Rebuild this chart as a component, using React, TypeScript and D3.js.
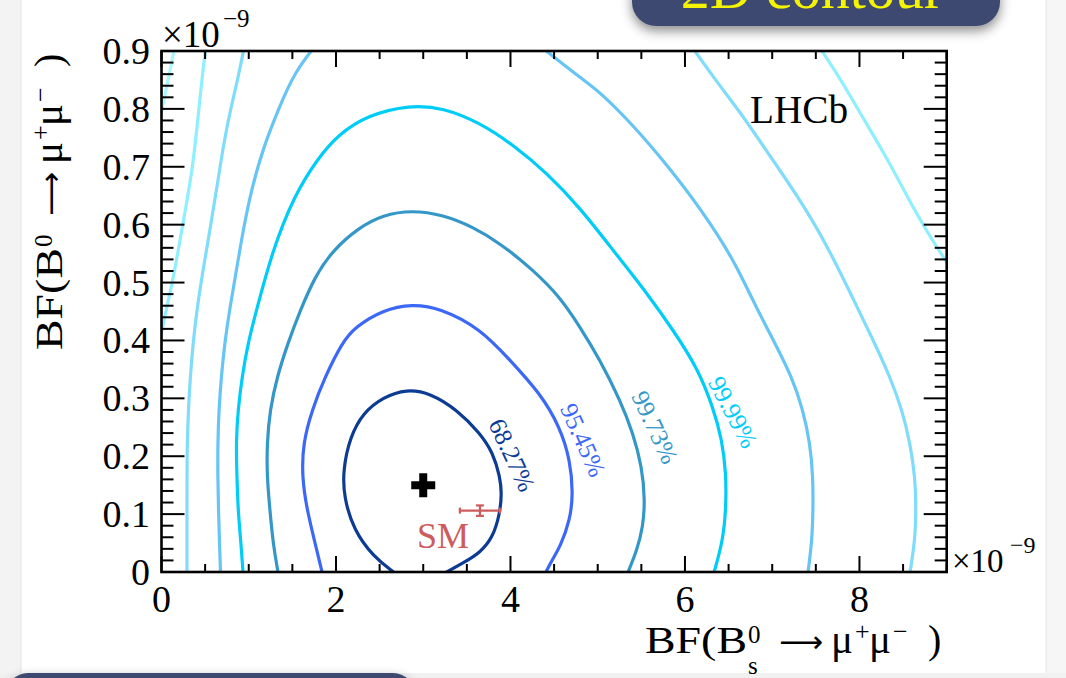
import React from "react";
import * as d3 from "d3";

// Canvas
const W = 1066;
const H = 678;

// Axis ranges (units of 1e-9)
const xDomain = [0, 9];
const yDomain = [0, 0.9];
const xTickValues = [0, 2, 4, 6, 8];
const xTickLabels = ["0", "2", "4", "6", "8"];
const yTickValues = [0, 0.1, 0.2, 0.3, 0.4, 0.5, 0.6, 0.7, 0.8, 0.9];
const yTickLabels = ["0", "0.1", "0.2", "0.3", "0.4", "0.5", "0.6", "0.7", "0.8", "0.9"];

// Contour lines: [BF(Bs), BF(B0)] points, from innermost to outermost
const c6827 = [
  [2.66, 0], [2.43, 0.026], [2.2, 0.073], [2.09, 0.13], [2.08, 0.176], [2.16, 0.233],
  [2.31, 0.275], [2.54, 0.302], [2.81, 0.316], [3.08, 0.309], [3.39, 0.28], [3.65, 0.24],
  [3.8, 0.206], [3.88, 0.164], [3.9, 0.136], [3.88, 0.102], [3.8, 0.06], [3.65, 0.033],
  [3.46, 0.016], [3.27, 0],
];
const c9545 = [
  [1.84, 0], [1.76, 0.05], [1.668, 0.107], [1.61, 0.164], [1.622, 0.223], [1.725, 0.28],
  [1.874, 0.337], [2.069, 0.396], [2.218, 0.423], [2.539, 0.453], [2.871, 0.463],
  [3.192, 0.456], [3.651, 0.421], [3.995, 0.366], [4.339, 0.309], [4.569, 0.25],
  [4.684, 0.193], [4.718, 0.136], [4.684, 0.09], [4.569, 0.043], [4.477, 0.021], [4.407, 0],
];
const c9973 = [
  [1.335, 0], [1.278, 0.05], [1.243, 0.107], [1.209, 0.164], [1.209, 0.223], [1.243, 0.28],
  [1.324, 0.337], [1.45, 0.396], [1.588, 0.451], [1.76, 0.511], [1.966, 0.556], [2.252, 0.594],
  [2.539, 0.617], [2.871, 0.625], [3.227, 0.617], [3.571, 0.596], [3.88, 0.568], [4.258, 0.522],
  [4.568, 0.475], [4.798, 0.423], [5.027, 0.366], [5.256, 0.297], [5.405, 0.24], [5.508, 0.181],
  [5.542, 0.124], [5.519, 0.078], [5.451, 0.038], [5.348, 0],
];
const c9999 = [
  [0.934, 0], [0.911, 0.05], [0.877, 0.107], [0.865, 0.164], [0.854, 0.223], [0.877, 0.28],
  [0.923, 0.337], [0.992, 0.396], [1.083, 0.449], [1.267, 0.553], [1.519, 0.65], [1.794, 0.715],
  [2.023, 0.755], [2.356, 0.789], [2.849, 0.807], [3.227, 0.802], [3.651, 0.776], [4.029, 0.738],
  [4.419, 0.689], [4.798, 0.629], [5.175, 0.556], [5.588, 0.477], [5.863, 0.418], [6.138, 0.354],
  [6.322, 0.285], [6.425, 0.228], [6.471, 0.171], [6.471, 0.112], [6.437, 0.055], [6.334, 0],
];
const c5Left = [
  [0.676, 0], [0.665, 0.05], [0.653, 0.107], [0.645, 0.164], [0.645, 0.223], [0.658, 0.28],
  [0.685, 0.337], [0.725, 0.396], [0.78, 0.453], [0.855, 0.518], [0.94, 0.594], [1.035, 0.663],
  [1.16, 0.73], [1.342, 0.8], [1.525, 0.864], [1.8, 0.916],
];
const c5Right = [
  [4.293, 0.914], [4.832, 0.85], [5.027, 0.829], [5.405, 0.772], [5.795, 0.703], [6.173, 0.629],
  [6.551, 0.542], [6.78, 0.468], [7.011, 0.401], [7.226, 0.337], [7.353, 0.28], [7.433, 0.223],
  [7.468, 0.164], [7.468, 0.107], [7.457, 0.055], [7.411, 0],
];
const c6Left = [
  [0.292, 0], [0.292, 0.05], [0.292, 0.107], [0.292, 0.164], [0.295, 0.223], [0.308, 0.28],
  [0.33, 0.337], [0.362, 0.396], [0.407, 0.455], [0.48, 0.525], [0.565, 0.6], [0.64, 0.669],
  [0.71, 0.738], [0.785, 0.795], [0.877, 0.853], [0.946, 0.905],
];
const c6Right = [
  [6.07, 0.909], [6.368, 0.846], [6.631, 0.795], [6.941, 0.726], [7.285, 0.651], [7.629, 0.565],
  [7.962, 0.461], [8.156, 0.401], [8.351, 0.337], [8.489, 0.28], [8.58, 0.223], [8.638, 0.164],
  [8.649, 0.112], [8.638, 0.055], [8.58, 0],
];
const c7Left = [
  [0.51, 0.909], [0.464, 0.853], [0.407, 0.767], [0.35, 0.691], [0.269, 0.622], [0.189, 0.553],
  [0.12, 0.496], [0.04, 0.444], [-0.017, 0.401],
];
const c7Right = [
  [7.525, 0.91], [7.778, 0.853], [8.041, 0.784], [8.316, 0.715], [8.58, 0.639], [8.844, 0.57],
  [9.06, 0.522],
];
const c8Left = [[0.155, 0.912], [0.097, 0.864], [0.04, 0.824], [-0.017, 0.784]];

const contourColors = ["#0b3b93", "#3b68f6", "#3497c8", "#00cdf7", "#66c5f5", "#7fdcfb", "#8ef0ff", "#a6f8ff"];
const contourSegments = [
  { level: 0, pts: c6827 },
  { level: 1, pts: c9545 },
  { level: 2, pts: c9973 },
  { level: 3, pts: c9999 },
  { level: 4, pts: c5Left },
  { level: 4, pts: c5Right },
  { level: 5, pts: c6Left },
  { level: 5, pts: c6Right },
  { level: 6, pts: c7Left },
  { level: 6, pts: c7Right },
  { level: 7, pts: c8Left },
];

// Confidence-level annotations: text, anchor point, rotation
const clLabels = ["68.27%", "95.45%", "99.73%", "99.99%"];
const clLabelX = [4.018, 4.832, 5.657, 6.551];
const clLabelY = [0.202, 0.228, 0.25, 0.276];
const clLabelAngle = [65, 66, 65, 62];

// Measurement and Standard Model prediction
const bestFit = [3.0, 0.15];
const smValue = [3.65, 0.106];
const smError = [0.23, 0.009];

const SERIF = "'Liberation Serif', 'Times New Roman', Times, serif";

const margin = { left: 161.5, right: 946.7, top: 51, bottom: 572 };

type Piece = { t: string; dx: number; dy: number; size: number; len?: number; font?: string };

// BF(B^0_s -> mu+ mu-) written as positioned pieces
function titlePieces(withSub: boolean): Piece[] {
  const p: Piece[] = [
    { t: "BF(B", dx: 0, dy: 0, size: 38, len: 102 },
    { t: "0", dx: 103, dy: -10, size: 25 },
    { t: "\u27f6", dx: 134, dy: -1, size: 30, len: 44, font: "'DejaVu Sans', sans-serif" },
    { t: "\u03bc", dx: 186, dy: 0, size: 40, len: 22 },
    { t: "+", dx: 210, dy: -13, size: 26 },
    { t: "\u03bc", dx: 224, dy: 0, size: 40, len: 22 },
    { t: "\u2212", dx: 248, dy: -13, size: 26 },
    { t: ")", dx: 283, dy: 0, size: 40 },
  ];
  if (withSub) p.splice(2, 0, { t: "s", dx: 103, dy: 21, size: 25 });
  return p;
}

function PieceText({ pieces, fill = "#000" }: { pieces: Piece[]; fill?: string }) {
  return (
    <>
      {pieces.map((p, i) => (
        <text
          key={i}
          x={p.dx}
          y={p.dy}
          fontSize={p.size}
          fontFamily={p.font || SERIF}
          fill={fill}
          textLength={p.len}
          lengthAdjust={p.len ? "spacingAndGlyphs" : undefined}
        >
          {p.t}
        </text>
      ))}
    </>
  );
}

export default function App() {
  const x = d3.scaleLinear().domain(xDomain).range([margin.left, margin.right]);
  const y = d3.scaleLinear().domain(yDomain).range([margin.bottom, margin.top]);

  const line = d3
    .line<number[]>()
    .x((d) => x(d[0]))
    .y((d) => y(d[1]))
    .curve(d3.curveBasis);

  const xMinor = d3.range(0, 19).map((i) => ({ v: i * 0.5, major: i % 4 === 0 }));
  const yMinor = d3.range(0, 46).map((i) => ({ v: i * 0.02, major: i % 5 === 0 }));

  const crossPath = d3.symbol(d3.symbolCross, 320)() || "";

  const smx = x(smValue[0]);
  const smy = y(smValue[1]);

  return (
    <svg
      width={W}
      height={H}
      viewBox={`0 0 ${W} ${H}`}
      style={{ position: "absolute", left: 0, top: 0, display: "block", background: "#fff" }}
    >
      <defs>
        <clipPath id="plotClip">
          <rect x={margin.left} y={margin.top} width={margin.right - margin.left} height={margin.bottom - margin.top} />
        </clipPath>
        <filter id="badgeShadow" x="-20%" y="-50%" width="140%" height="250%">
          <feDropShadow dx="0" dy="5" stdDeviation="6" floodColor="#000" floodOpacity="0.45" />
        </filter>
      </defs>

      {/* page margins */}
      <rect x={0} y={0} width={21} height={H} fill="#f3f3f3" />
      <line x1={21} y1={0} x2={21} y2={H} stroke="#e4e4e4" strokeWidth={1} />
      <rect x={1046} y={0} width={W - 1046} height={H} fill="#f6f6f6" />
      <line x1={1046} y1={0} x2={1046} y2={H} stroke="#e6e6e6" strokeWidth={1} />
      <rect x={0} y={673} width={W} height={H - 673} fill="#f1f1f1" />

      {/* header badge */}
      <g filter="url(#badgeShadow)">
        <rect x={632} y={-50} width={368} height={76} rx={24} fill="#3c4a70" />
      </g>
      <text x={812} y={8} textAnchor="middle" fontFamily={SERIF} fontSize={58} fill="#f4f400">
        2D contour
      </text>

      {/* footer badge */}
      <g filter="url(#badgeShadow)">
        <rect x={6} y={673} width={409} height={60} rx={22} fill="#3c4a70" />
      </g>

      {/* contours */}
      <g clipPath="url(#plotClip)" fill="none" strokeWidth={3.2} strokeLinejoin="round" strokeLinecap="round">
        {contourSegments.map((s, i) => (
          <path key={i} d={line(s.pts) || ""} stroke={contourColors[s.level]} />
        ))}
      </g>

      {/* confidence-level labels */}
      {clLabels.map((t, i) => (
        <text
          key={t}
          transform={`translate(${x(clLabelX[i])},${y(clLabelY[i])}) rotate(${clLabelAngle[i]})`}
          textAnchor="middle"
          dominantBaseline="central"
          fontFamily={SERIF}
          fontSize={25}
          fill={contourColors[i]}
        >
          {t}
        </text>
      ))}

      {/* best fit */}
      <path transform={`translate(${x(bestFit[0])},${y(bestFit[1])})`} d={crossPath} fill="#000" />

      {/* Standard Model prediction */}
      <g stroke="#cd5c5c" strokeWidth={2.2} fill="none">
        <line x1={x(smValue[0] - smError[0])} x2={x(smValue[0] + smError[0])} y1={smy} y2={smy} />
        <line x1={x(smValue[0] - smError[0])} x2={x(smValue[0] - smError[0])} y1={smy - 3} y2={smy + 3} />
        <line x1={x(smValue[0] + smError[0])} x2={x(smValue[0] + smError[0])} y1={smy - 3} y2={smy + 3} />
        <line x1={smx} x2={smx} y1={y(smValue[1] - smError[1])} y2={y(smValue[1] + smError[1])} />
        <line x1={smx - 4} x2={smx + 4} y1={y(smValue[1] - smError[1])} y2={y(smValue[1] - smError[1])} />
        <line x1={smx - 4} x2={smx + 4} y1={y(smValue[1] + smError[1])} y2={y(smValue[1] + smError[1])} />
      </g>
      <text x={smx - 63} y={smy + 37} fontFamily={SERIF} fontSize={36} fill="#cd5c5c">
        SM
      </text>

      {/* frame */}
      <rect
        x={margin.left}
        y={margin.top}
        width={margin.right - margin.left}
        height={margin.bottom - margin.top}
        fill="none"
        stroke="#000"
        strokeWidth={2.6}
      />

      {/* ticks */}
      <g stroke="#000" strokeWidth={2}>
        {xMinor.map((t, i) => {
          const len = t.major ? 16 : 8;
          return (
            <g key={i}>
              <line x1={x(t.v)} x2={x(t.v)} y1={margin.bottom} y2={margin.bottom - len} />
              <line x1={x(t.v)} x2={x(t.v)} y1={margin.top} y2={margin.top + len} />
            </g>
          );
        })}
        {yMinor.map((t, i) => {
          const len = t.major ? 23 : 12;
          return (
            <g key={i}>
              <line x1={margin.left} x2={margin.left + len} y1={y(t.v)} y2={y(t.v)} />
              <line x1={margin.right} x2={margin.right - len} y1={y(t.v)} y2={y(t.v)} />
            </g>
          );
        })}
      </g>

      {/* tick labels */}
      {xTickValues.map((v, i) => (
        <text key={i} x={x(v)} y={612} textAnchor="middle" fontFamily={SERIF} fontSize={38} fill="#000">
          {xTickLabels[i]}
        </text>
      ))}
      {yTickValues.map((v, i) => (
        <text
          key={i}
          x={150}
          y={y(v)}
          textAnchor="end"
          dominantBaseline="central"
          fontFamily={SERIF}
          fontSize={38}
          fill="#000"
        >
          {yTickLabels[i]}
        </text>
      ))}

      {/* exponent markers */}
      <text x={162} y={47} fontFamily={SERIF} fontSize={37} fill="#000">
        {"\u00d710"}
      </text>
      <text x={223} y={27} fontFamily={SERIF} fontSize={25} fill="#000">
        {"\u22129"}
      </text>
      <text x={952} y={572} fontFamily={SERIF} fontSize={33} fill="#000">
        {"\u00d710"}
      </text>
      <text x={1010} y={553} fontFamily={SERIF} fontSize={24} fill="#000">
        {"\u22129"}
      </text>

      {/* axis titles */}
      <g transform="translate(645,653)">
        <PieceText pieces={titlePieces(true)} />
      </g>
      <g transform="translate(62,350) rotate(-90)">
        <PieceText pieces={titlePieces(false)} />
      </g>

      {/* experiment tag */}
      <text x={750} y={123} fontFamily={SERIF} fontSize={40} textLength={98} lengthAdjust="spacingAndGlyphs" fill="#000">
        LHCb
      </text>
    </svg>
  );
}
